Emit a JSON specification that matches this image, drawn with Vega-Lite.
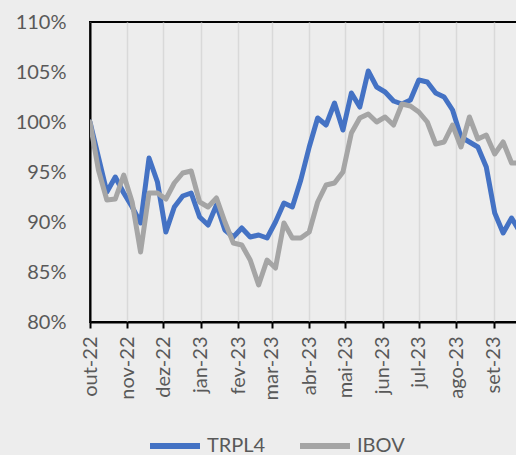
{
  "$schema": "https://vega.github.io/schema/vega-lite/v6.json",
  "width": 427,
  "height": 300,
  "autosize": {"type": "none"},
  "padding": {"left": 90, "top": 22, "right": 0, "bottom": 133},
  "background": "#EDEDED",
  "view": {"stroke": "#000000", "strokeWidth": 2, "fill": "#EDEDED"},
  "config": {"font": "Lato"},
  "data": {
    "values": [
      {"date": "2022-10-01", "TRPL4": 100.0, "IBOV": 100.0},
      {"date": "2022-10-08", "TRPL4": 96.5, "IBOV": 95.2},
      {"date": "2022-10-15", "TRPL4": 93.0, "IBOV": 92.2},
      {"date": "2022-10-22", "TRPL4": 94.5, "IBOV": 92.3},
      {"date": "2022-10-29", "TRPL4": 92.9, "IBOV": 94.7},
      {"date": "2022-11-05", "TRPL4": 91.5, "IBOV": 92.0},
      {"date": "2022-11-12", "TRPL4": 89.9, "IBOV": 87.0},
      {"date": "2022-11-19", "TRPL4": 96.4, "IBOV": 92.9},
      {"date": "2022-11-26", "TRPL4": 94.0, "IBOV": 92.9},
      {"date": "2022-12-03", "TRPL4": 89.0, "IBOV": 92.3},
      {"date": "2022-12-10", "TRPL4": 91.5, "IBOV": 93.9},
      {"date": "2022-12-17", "TRPL4": 92.6, "IBOV": 94.9},
      {"date": "2022-12-24", "TRPL4": 92.9, "IBOV": 95.1},
      {"date": "2022-12-31", "TRPL4": 90.5, "IBOV": 92.0},
      {"date": "2023-01-07", "TRPL4": 89.7, "IBOV": 91.5},
      {"date": "2023-01-14", "TRPL4": 91.7, "IBOV": 92.4},
      {"date": "2023-01-21", "TRPL4": 89.2, "IBOV": 90.0},
      {"date": "2023-01-28", "TRPL4": 88.5, "IBOV": 87.9},
      {"date": "2023-02-04", "TRPL4": 89.4, "IBOV": 87.7},
      {"date": "2023-02-11", "TRPL4": 88.5, "IBOV": 86.2},
      {"date": "2023-02-18", "TRPL4": 88.7, "IBOV": 83.7},
      {"date": "2023-02-25", "TRPL4": 88.4, "IBOV": 86.2},
      {"date": "2023-03-04", "TRPL4": 90.0, "IBOV": 85.4},
      {"date": "2023-03-11", "TRPL4": 91.9, "IBOV": 89.9},
      {"date": "2023-03-18", "TRPL4": 91.5, "IBOV": 88.4},
      {"date": "2023-03-25", "TRPL4": 94.2, "IBOV": 88.4},
      {"date": "2023-04-01", "TRPL4": 97.5, "IBOV": 89.0},
      {"date": "2023-04-08", "TRPL4": 100.4, "IBOV": 92.0},
      {"date": "2023-04-15", "TRPL4": 99.7, "IBOV": 93.7},
      {"date": "2023-04-22", "TRPL4": 101.9, "IBOV": 93.9},
      {"date": "2023-04-29", "TRPL4": 99.2, "IBOV": 95.0},
      {"date": "2023-05-06", "TRPL4": 102.9, "IBOV": 98.9},
      {"date": "2023-05-13", "TRPL4": 101.5, "IBOV": 100.4},
      {"date": "2023-05-20", "TRPL4": 105.1, "IBOV": 100.8},
      {"date": "2023-05-27", "TRPL4": 103.5, "IBOV": 100.0},
      {"date": "2023-06-03", "TRPL4": 103.0, "IBOV": 100.5},
      {"date": "2023-06-10", "TRPL4": 102.1, "IBOV": 99.7},
      {"date": "2023-06-17", "TRPL4": 101.8, "IBOV": 101.8},
      {"date": "2023-06-24", "TRPL4": 102.2, "IBOV": 101.6},
      {"date": "2023-07-01", "TRPL4": 104.2, "IBOV": 101.0},
      {"date": "2023-07-08", "TRPL4": 104.0, "IBOV": 100.0},
      {"date": "2023-07-15", "TRPL4": 102.9, "IBOV": 97.8},
      {"date": "2023-07-22", "TRPL4": 102.5, "IBOV": 98.0},
      {"date": "2023-07-29", "TRPL4": 101.2, "IBOV": 99.7},
      {"date": "2023-08-05", "TRPL4": 98.5, "IBOV": 97.5},
      {"date": "2023-08-12", "TRPL4": 98.0, "IBOV": 100.5},
      {"date": "2023-08-19", "TRPL4": 97.5, "IBOV": 98.3},
      {"date": "2023-08-26", "TRPL4": 95.5, "IBOV": 98.7},
      {"date": "2023-09-02", "TRPL4": 90.9, "IBOV": 96.8},
      {"date": "2023-09-09", "TRPL4": 88.9, "IBOV": 98.0},
      {"date": "2023-09-16", "TRPL4": 90.4, "IBOV": 95.9},
      {"date": "2023-09-23", "TRPL4": 89.0, "IBOV": 95.9}
    ]
  },
  "encoding": {
    "x": {
      "field": "date",
      "type": "temporal",
      "scale": {"type": "utc", "domain": [{"year": 2022, "month": 10, "date": 1, "utc": true}, {"year": 2023, "month": 9, "date": 20, "hours": 12, "utc": true}]},
      "axis": {
        "title": null,
        "values": [
          {"year": 2022, "month": 10, "date": 1, "utc": true},
          {"year": 2022, "month": 11, "date": 1, "utc": true},
          {"year": 2022, "month": 12, "date": 1, "utc": true},
          {"year": 2023, "month": 1, "date": 1, "utc": true},
          {"year": 2023, "month": 2, "date": 1, "utc": true},
          {"year": 2023, "month": 3, "date": 1, "utc": true},
          {"year": 2023, "month": 4, "date": 1, "utc": true},
          {"year": 2023, "month": 5, "date": 1, "utc": true},
          {"year": 2023, "month": 6, "date": 1, "utc": true},
          {"year": 2023, "month": 7, "date": 1, "utc": true},
          {"year": 2023, "month": 8, "date": 1, "utc": true},
          {"year": 2023, "month": 9, "date": 1, "utc": true}
        ],
        "labelExpr": "['jan','fev','mar','abr','mai','jun','jul','ago','set','out','nov','dez'][utcmonth(datum.value)] + '-' + utcFormat(datum.value, '%y')",
        "labelAngle": 270,
        "labelFontSize": 20,
        "labelColor": "#595959",
        "labelPadding": 8,
        "labelOverlap": false,
        "labelBound": false,
        "labelFlush": false,
        "domainColor": "#000000",
        "domainWidth": 2,
        "tickColor": "#000000",
        "tickWidth": 2,
        "tickSize": 6,
        "grid": true,
        "gridColor": "#D9D9D9",
        "gridWidth": 1.5
      }
    }
  },
  "layer": [
    {
      "mark": {"type": "line", "strokeWidth": 5, "strokeJoin": "round", "strokeCap": "round", "clip": true},
      "encoding": {
        "y": {
          "field": "TRPL4",
          "type": "quantitative",
          "scale": {"domain": [80, 110], "nice": false, "zero": false},
          "axis": {
            "title": null,
            "values": [80, 85, 90, 95, 100, 105, 110],
            "labelExpr": "datum.value + '%'",
            "labelFontSize": 20,
            "labelColor": "#595959",
            "labelPadding": 24,
            "ticks": false,
            "grid": false,
            "domainColor": "#000000",
            "domainWidth": 2
          }
        },
        "color": {
          "datum": "TRPL4",
          "type": "nominal",
          "scale": {"domain": ["TRPL4", "IBOV"], "range": ["#4472C4", "#A5A5A5"]},
          "legend": {
            "title": null,
            "orient": "none",
            "direction": "horizontal",
            "legendX": 57,
            "legendY": 396,
            "padding": 0,
            "symbolType": "stroke",
            "symbolSize": 2500,
            "symbolStrokeWidth": 6,
            "labelFontSize": 20,
            "labelColor": "#595959",
            "labelOffset": 4,
            "columnPadding": 22
          }
        }
      }
    },
    {
      "mark": {"type": "line", "strokeWidth": 5, "strokeJoin": "round", "strokeCap": "round", "clip": true},
      "encoding": {
        "y": {"field": "IBOV", "type": "quantitative"},
        "color": {"datum": "IBOV", "type": "nominal"}
      }
    }
  ]
}
